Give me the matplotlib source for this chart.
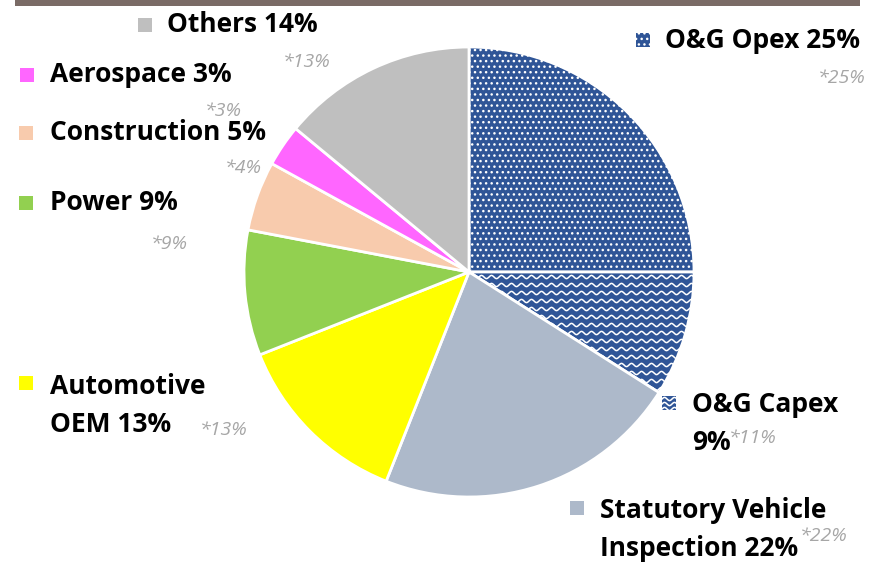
import matplotlib.pyplot as plt
import numpy as np

plt.rcParams['font.family'] = ['Open Sans', 'DejaVu Sans']
plt.rcParams['hatch.color'] = 'white'
plt.rcParams['hatch.linewidth'] = 1.0

# data
labels = ['O&G Opex 25%', 'O&G Capex\n9%', 'Statutory Vehicle\nInspection 22%', 'Automotive\nOEM 13%',
          'Power 9%', 'Construction 5%', 'Aerospace 3%', 'Others 14%']
shares = [25, 9, 22, 13, 9, 5, 3, 14]
prior = ['*25%', '*11%', '*22%', '*13%', '*9%', '*4%', '*3%', '*13%']
colors = ['#2f5597', '#2f5597', '#adb9ca', '#ffff00', '#92d050', '#f8cbad', '#ff66ff', '#bfbfbf']

W, H = 874, 562
fig = plt.figure(figsize=(W / 100, H / 100), dpi=100)
ax = fig.add_axes([0, 0, 1, 1])

cx, cy, r = 469, H - 272, 225
wedges, _ = ax.pie(shares, colors=colors, startangle=90, counterclock=False,
                   center=(cx, cy), radius=r, frame=True,
                   wedgeprops=dict(edgecolor='white', linewidth=2))
ax.set_xlim(0, W)
ax.set_ylim(0, H)
ax.set_aspect('equal')
ax.axis('off')

# top bar
ax.add_patch(plt.Rectangle((15, H - 6), 845, 6, color='#7a6b66', lw=0))

# dotted pattern for opex
wedges[0].set_hatch('...')
# wavy pattern for capex
def waves(clip, x0, x1, y0, y1, step=8):
    xs = np.linspace(x0, x1, 400)
    for yy in np.arange(y0, y1, step):
        ln, = ax.plot(xs, yy + 1.6 * np.sin(2 * np.pi * (xs - x0) / 10), color='white', lw=1.1)
        ln.set_clip_path(clip)

waves(wedges[1], cx, cx + r + 5, cy - 125, cy + 5)

# legend-like labels: marker (x, y), first text line (x, y), prior value (x, y)
pos = [
    ((643, 40), (665, 40), (818, 78)),
    ((669, 403), (692, 404), (729, 438)),
    ((577, 508), (600, 510), (800, 536)),
    ((26, 383), (50, 386), (200, 430)),
    ((26, 203), (50, 203), (151, 244)),
    ((26, 133), (50, 133), (225, 168)),
    ((27, 75), (50, 75), (205, 111)),
    ((145, 25), (167, 25), (283, 62)),
]
for i in range(len(labels)):
    (mx, my), (tx, ty), (px, py) = pos[i]
    sq = plt.Rectangle((mx - 7, H - my - 7), 14, 14, color=colors[i], lw=0)
    ax.add_patch(sq)
    if i == 0:
        sq.set_hatch('...')
        sq.set_edgecolor('white')
    if i == 1:
        waves(sq, mx - 7, mx + 7, H - my - 6, H - my + 7, step=5)
    for k, line in enumerate(labels[i].split('\n')):
        ax.text(tx, H - ty - 38 * k, line, fontsize=19, fontweight='bold', color='black',
                ha='left', va='center')
    ax.text(px, H - py, prior[i], fontsize=14, style='italic', color='#a6a6a6',
            ha='left', va='center')

fig.savefig('out.png', dpi=100)
